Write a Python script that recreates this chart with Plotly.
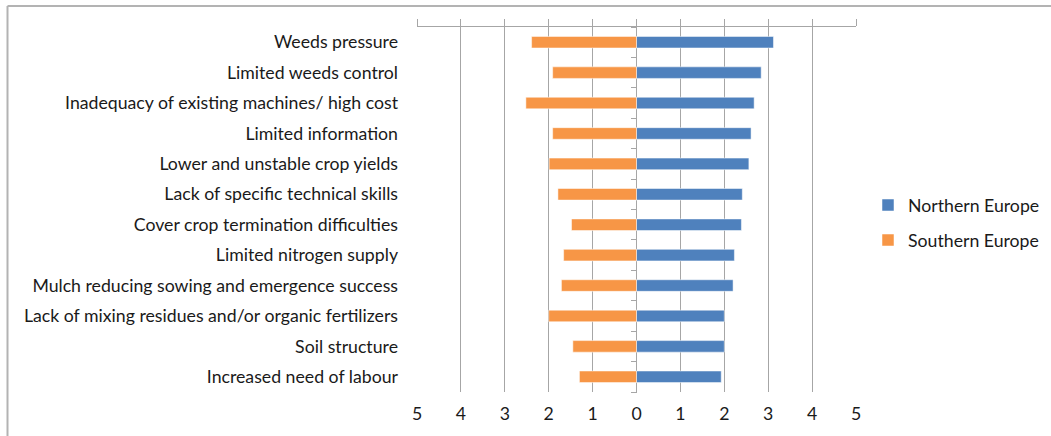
import plotly.graph_objects as go

categories = [
    "Weeds pressure",
    "Limited weeds control",
    "Inadequacy of existing machines/ high cost",
    "Limited information",
    "Lower and unstable crop yields",
    "Lack of specific technical skills",
    "Cover crop termination difficulties",
    "Limited nitrogen supply",
    "Mulch reducing sowing and emergence success",
    "Lack of mixing residues and/or organic fertilizers",
    "Soil structure",
    "Increased need of labour",
]
northern = [3.12, 2.84, 2.68, 2.61, 2.56, 2.41, 2.39, 2.23, 2.20, 2.00, 2.00, 1.93]
southern = [2.39, 1.91, 2.52, 1.91, 1.99, 1.79, 1.48, 1.66, 1.71, 2.00, 1.45, 1.30]
tick_values = [-5, -4, -3, -2, -1, 0, 1, 2, 3, 4, 5]
tick_labels = [str(abs(v)) for v in tick_values]

FONT = "Lato"
FS = 17.7
GRID = "#a6a6a6"

fig = go.Figure()
fig.add_trace(go.Bar(
    y=categories, x=northern, orientation="h", name="Northern Europe",
    legendgroup="n",
    marker=dict(color="#4F81BD", line=dict(color="#ffffff", width=0.5)),
))
fig.add_trace(go.Bar(
    y=categories, x=[-v for v in southern], orientation="h", name="Southern Europe",
    legendgroup="s",
    marker=dict(color="#F79646", line=dict(color="#ffffff", width=0.5)),
))
# invisible helper trace so the overlay axes render
fig.add_trace(go.Scatter(x=[0], y=[0], xaxis="x2", yaxis="y2", mode="markers",
                         marker=dict(opacity=0), showlegend=False, hoverinfo="skip"))

L, R, T, B = 417, 195, 27, 44
W = 1051 - L - R
H = 436 - T - B

fig.update_layout(
    width=1051, height=436,
    margin=dict(l=L, r=R, t=T, b=B, autoexpand=False),
    paper_bgcolor="white", plot_bgcolor="white",
    barmode="relative", bargap=0.62,
    font=dict(family=FONT, size=FS, color="#1a1a1a"),
    showlegend=True,
    legend=dict(x=(868 - L) / W, y=0.463, xanchor="left", yanchor="middle",
                traceorder="grouped", font=dict(size=FS, family=FONT),
                tracegroupgap=9, bgcolor="rgba(0,0,0,0)"),
    xaxis=dict(range=[-5, 5], tickvals=tick_values, ticktext=tick_labels,
               showgrid=True, gridcolor=GRID, gridwidth=1,
               zeroline=True, zerolinecolor=GRID, zerolinewidth=1,
               showline=False, ticks="", ticklabelstandoff=9, automargin=False,
               tickfont=dict(size=FS, family=FONT)),
    xaxis2=dict(overlaying="x", matches="x", side="top", anchor="y",
                tickvals=tick_values, showticklabels=False, automargin=False,
                ticks="outside", ticklen=7, tickcolor=GRID,
                showline=True, linecolor=GRID, linewidth=1,
                showgrid=False, zeroline=False),
    yaxis=dict(autorange="reversed", showgrid=False, zeroline=False,
               showline=False, ticks="", ticklabelstandoff=18, automargin=False,
               tickfont=dict(size=FS, family=FONT)),
    yaxis2=dict(overlaying="y", anchor="free", position=0.5, automargin=False,
                range=[len(categories) - 0.5, -0.5],
                tickvals=[i - 0.5 for i in range(len(categories) + 1)],
                ticks="outside", ticklen=6, tickcolor=GRID,
                showticklabels=False, showgrid=False, zeroline=False,
                showline=False),
)

# outer chart border (top and left edges visible)
bx = (7.5 - L) / W
by = 1 + (T - 6) / H
fig.add_shape(type="line", xref="paper", yref="paper", x0=bx, x1=1 + R / W + 0.1,
              y0=by, y1=by, line=dict(color="#b3b3b3", width=2))
fig.add_shape(type="line", xref="paper", yref="paper", x0=bx, x1=bx,
              y0=by, y1=-B / H - 0.1, line=dict(color="#b3b3b3", width=2))

fig.write_html("out.html", config={"displayModeBar": False},
               post_script="document.body.style.margin='0';")
